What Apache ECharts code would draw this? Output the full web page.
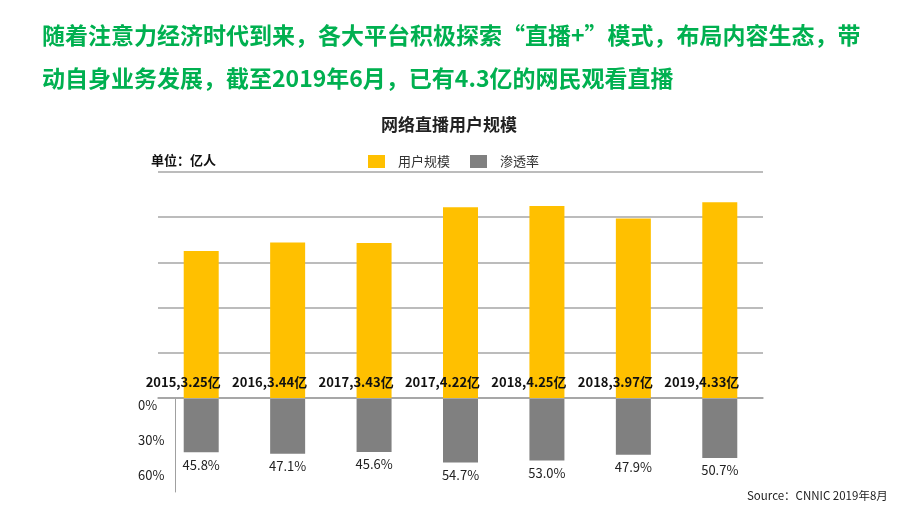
<!DOCTYPE html>
<html>
<head>
<meta charset="utf-8">
<script src="https://cdn.jsdelivr.net/npm/echarts@6/dist/echarts.min.js"></script>
<style>html,body{margin:0;padding:0;background:#fff;}#c{width:920px;height:518px;}</style>
</head>
<body>
<div id="c"></div>
<script>
var years = ['2015', '2016', '2017', '2017', '2018', '2018', '2019'];
var users = [3.25, 3.44, 3.43, 4.22, 4.25, 3.97, 4.33];
var penetration = [45.8, 47.1, 45.6, 54.7, 53.0, 47.9, 50.7];
var userTicks = [0, 1, 2, 3, 4, 5];
var pctTicks = ['0%', '30%', '60%'];

var FONT = '"Noto Sans CJK SC", "Noto Sans", sans-serif';
var chart = echarts.init(document.getElementById('c'));
var idx = years.map(function (_, i) { return String(i); });

chart.setOption({
  backgroundColor: '#fff',
  animation: false,
  textStyle: { fontFamily: FONT },
  title: [
    {
      text: '随着注意力经济时代到来，各大平台积极探索“直播+”模式，布局内容生态，带\n动自身业务发展，截至2019年6月，已有4.3亿的网民观看直播',
      left: 37, top: 9,
      textStyle: { color: '#00B050', fontSize: 23, fontWeight: 'bold', lineHeight: 43, fontFamily: FONT }
    },
    {
      text: '网络直播用户规模',
      left: 376, top: 111,
      textStyle: { color: '#222', fontSize: 17, fontWeight: 'bold', fontFamily: FONT }
    },
    {
      text: '单位：亿人',
      left: 146, top: 149,
      textStyle: { color: '#111', fontSize: 13, fontWeight: 'bold', fontFamily: FONT }
    },
    {
      text: 'Source：CNNIC 2019年8月',
      left: 742, top: 485,
      textStyle: { color: '#222', fontSize: 11.5, fontWeight: 'normal', fontFamily: FONT }
    }
  ],
  legend: {
    left: 363, top: 150,
    itemWidth: 17, itemHeight: 13, itemGap: 20,
    icon: 'rect',
    textStyle: { color: '#333', fontSize: 13, padding: [0, 0, 0, 8], fontFamily: FONT },
    data: ['用户规模', '渗透率']
  },
  grid: [
    { left: 158, right: 157, top: 172, height: 226 },
    { left: 158, right: 157, top: 399, height: 93 }
  ],
  xAxis: [
    {
      gridIndex: 0, type: 'category', data: idx,
      axisLine: { show: true, lineStyle: { color: '#a0a0a0', width: 1.5 } },
      axisTick: { show: false }, axisLabel: { show: false }
    },
    {
      gridIndex: 1, type: 'category', data: idx, show: false
    }
  ],
  yAxis: [
    {
      gridIndex: 0, type: 'value', min: userTicks[0], max: userTicks[userTicks.length - 1], interval: 1,
      axisLine: { show: false }, axisTick: { show: false }, axisLabel: { show: false },
      splitLine: { show: true, lineStyle: { color: '#a6a6a6', width: 1.5 } }
    },
    {
      gridIndex: 1, type: 'value', inverse: true, min: 0, max: 80, interval: 30,
      offset: -17,
      axisLine: { show: true, lineStyle: { color: '#a0a0a0', width: 1 } },
      axisTick: { show: false },
      splitLine: { show: false },
      axisLabel: {
        align: 'left', margin: 37, color: '#222', fontSize: 13, fontFamily: FONT,
        verticalAlign: 'top',
        formatter: function (v) {
          var k = Math.round(v / 30);
          return (v % 30 === 0 && k < pctTicks.length) ? pctTicks[k] : '';
        }
      }
    }
  ],
  series: [
    {
      name: '用户规模', type: 'bar', xAxisIndex: 0, yAxisIndex: 0,
      data: users, barWidth: 35,
      itemStyle: { color: '#FFC000' },
      label: {
        show: true, position: 'insideBottom', distance: 9, offset: [-18, 0],
        color: '#111', fontSize: 13, fontWeight: 'bold', fontFamily: FONT,
        formatter: function (p) { return years[p.dataIndex] + ',' + users[p.dataIndex] + '亿'; }
      }
    },
    {
      name: '渗透率', type: 'bar', xAxisIndex: 1, yAxisIndex: 1,
      data: penetration, barWidth: 35,
      itemStyle: { color: '#808080' },
      label: {
        show: true, position: 'bottom', distance: 6,
        color: '#222', fontSize: 13, fontFamily: FONT,
        formatter: function (p) { return p.value.toFixed(1) + '%'; }
      }
    }
  ]
});
</script>
</body>
</html>
